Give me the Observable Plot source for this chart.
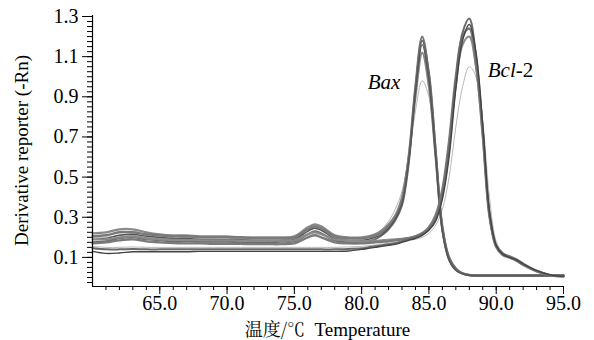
<!DOCTYPE html>
<html><head><meta charset="utf-8">
<script src="https://cdn.jsdelivr.net/npm/d3@7"></script>
<script src="https://cdn.jsdelivr.net/npm/@observablehq/plot@0.6"></script>
<style>
body{margin:0;background:#fff;}
#chart svg{display:block;}
</style>
</head><body><div id="chart"></div>
<script>
// Temperature grid (°C)
const temperature = [60,61,62,63,64,65,66,67,68,69,70,71,72,73,74,75,76,76.5,77,78,79,80,80.5,81,81.5,82,82.5,83,83.5,84,84.5,85,85.5,86,86.5,87,87.5,88,88.5,89,89.5,90,90.5,91,91.5,92,93,94,95];

// Bax melt curves
const bax1 = [0.205,0.21,0.225,0.225,0.215,0.21,0.205,0.205,0.2,0.2,0.2,0.2,0.195,0.195,0.195,0.2,
  0.24,0.255,0.245,0.205,0.195,
  0.195,0.2,0.21,0.225,0.255,0.3,0.38,0.6,0.95,1.2,1.0,0.62,0.24,0.09,0.04,0.02,0.012,
  0.01,0.01,0.01,0.01,0.01,0.01,0.01,0.01,0.01,0.01,0.01];
const bax2 = [0.19,0.195,0.21,0.215,0.205,0.2,0.195,0.195,0.19,0.19,0.19,0.19,0.185,0.185,0.185,0.19,
  0.23,0.245,0.235,0.195,0.185,
  0.185,0.19,0.2,0.215,0.245,0.29,0.37,0.58,0.92,1.16,0.98,0.6,0.23,0.085,0.035,0.018,0.01,
  0.008,0.008,0.008,0.008,0.008,0.008,0.008,0.008,0.008,0.008,0.008];
const bax3 = [0.175,0.18,0.195,0.2,0.19,0.185,0.18,0.18,0.178,0.178,0.178,0.176,0.176,0.176,0.178,0.18,
  0.215,0.23,0.22,0.185,0.175,
  0.175,0.18,0.19,0.21,0.24,0.285,0.36,0.57,0.94,1.18,1.02,0.64,0.25,0.1,0.045,0.02,0.012,
  0.01,0.01,0.01,0.01,0.01,0.01,0.01,0.01,0.01,0.01,0.01];
const bax4 = [0.22,0.225,0.24,0.24,0.225,0.215,0.21,0.21,0.205,0.205,0.205,0.2,0.2,0.2,0.2,0.205,
  0.25,0.265,0.255,0.21,0.2,
  0.2,0.205,0.215,0.235,0.265,0.31,0.4,0.6,0.9,1.12,0.95,0.6,0.24,0.095,0.04,0.02,0.012,
  0.012,0.012,0.012,0.012,0.012,0.012,0.012,0.012,0.012,0.012,0.012];
const baxLight = [0.2,0.2,0.21,0.21,0.2,0.195,0.19,0.19,0.19,0.19,0.188,0.188,0.186,0.186,0.186,0.19,
  0.215,0.225,0.215,0.19,0.185,
  0.19,0.2,0.215,0.24,0.28,0.34,0.43,0.6,0.83,0.98,0.9,0.62,0.28,0.11,0.05,0.02,0.01,
  0.01,0.01,0.01,0.01,0.01,0.01,0.01,0.01,0.01,0.01,0.01];

// Bcl-2 melt curves
const bcl1 = [0.145,0.14,0.14,0.142,0.14,0.14,0.14,0.14,0.14,0.14,0.14,0.14,0.14,0.14,0.14,0.14,
  0.14,0.14,0.14,0.14,0.142,
  0.145,0.15,0.155,0.16,0.165,0.17,0.18,0.19,0.2,0.215,0.24,0.29,0.41,0.64,0.98,1.22,1.29,
  1.1,0.74,0.31,0.155,0.115,0.1,0.085,0.065,0.032,0.012,0.006];
const bcl2 = [0.13,0.12,0.122,0.128,0.128,0.128,0.128,0.128,0.13,0.13,0.13,0.13,0.13,0.13,0.13,0.13,
  0.13,0.13,0.13,0.13,0.132,
  0.14,0.145,0.15,0.155,0.16,0.165,0.175,0.185,0.195,0.21,0.235,0.28,0.39,0.6,0.94,1.18,1.26,
  1.12,0.76,0.33,0.16,0.115,0.1,0.088,0.068,0.035,0.013,0.006];
const bcl3 = [0.17,0.175,0.185,0.19,0.18,0.175,0.172,0.17,0.17,0.168,0.168,0.168,0.166,0.166,0.166,0.17,
  0.2,0.21,0.2,0.175,0.17,
  0.17,0.172,0.175,0.178,0.18,0.185,0.19,0.195,0.205,0.22,0.25,0.31,0.44,0.68,1.0,1.2,1.24,
  1.06,0.72,0.32,0.16,0.12,0.105,0.09,0.068,0.033,0.012,0.006];
const bcl4 = [0.19,0.19,0.2,0.205,0.195,0.19,0.188,0.186,0.185,0.185,0.185,0.184,0.184,0.184,0.184,0.185,
  0.215,0.225,0.215,0.19,0.185,
  0.18,0.18,0.182,0.185,0.188,0.19,0.193,0.197,0.205,0.22,0.245,0.3,0.42,0.66,0.96,1.16,1.2,
  1.05,0.7,0.3,0.15,0.11,0.098,0.083,0.062,0.03,0.01,0.005];
const bclLight = [0.155,0.15,0.15,0.152,0.15,0.15,0.15,0.15,0.15,0.15,0.15,0.15,0.15,0.15,0.15,0.15,
  0.15,0.15,0.15,0.15,0.152,
  0.155,0.158,0.162,0.166,0.17,0.175,0.18,0.185,0.19,0.2,0.22,0.26,0.34,0.5,0.75,0.95,1.05,
  1.0,0.78,0.4,0.18,0.12,0.1,0.08,0.06,0.03,0.012,0.006];

// Axis ticks and labels
const xTicks = [65, 70, 75, 80, 85, 90, 95];
const yTicks = [0.1, 0.3, 0.5, 0.7, 0.9, 1.1, 1.3];
const xDomain = [60, 95];
const yDomain = [-0.045, 1.305];
const xTitleCJK = "温度/℃";
const xTitle = "  Temperature";
const yTitle = "Derivative reporter (-Rn)";
const geneLabels = [
  {italic: "Bax", plain: "", x: 81.7, y: 0.936},
  {italic: "Bcl", plain: "-2", x: 91.1, y: 0.996}
];

const series = [
  {values: baxLight, color: "#b8b8b8", width: 1},
  {values: bclLight, color: "#b8b8b8", width: 1},
  {values: bax4, color: "#8a8a8a", width: 2.2},
  {values: bax1, color: "#7a7a7a", width: 2.4},
  {values: bax3, color: "#6a6a6a", width: 2},
  {values: bax2, color: "#555555", width: 1.4},
  {values: bcl4, color: "#8a8a8a", width: 2.2},
  {values: bcl3, color: "#7a7a7a", width: 2.4},
  {values: bcl1, color: "#6a6a6a", width: 2},
  {values: bcl2, color: "#444444", width: 1.4}
];

const yMinor = d3.range(-0.025, 1.3001, 0.025);
const xMinor = d3.range(61, 95.001, 1);
const font = "Liberation Serif";
const cjkFont = "Noto Serif CJK SC";

const chart = Plot.plot({
  width: 594,
  height: 340,
  marginLeft: 92,
  marginRight: 31,
  marginTop: 15,
  marginBottom: 54,
  style: {fontFamily: font, fontSize: "20px", color: "#000", background: "#fff"},
  x: {domain: xDomain},
  y: {domain: yDomain},
  marks: [
    Plot.axisY(yMinor, {tickSize: 5, tickFormat: () => "", label: null, strokeWidth: 1}),
    Plot.axisY(yTicks, {tickSize: 10, tickPadding: 4, tickFormat: d3.format(".1f"), label: null, fontSize: 20, fontFamily: font}),
    Plot.axisX(xMinor, {tickSize: 4, tickFormat: () => "", label: null}),
    Plot.axisX(xTicks, {tickSize: 8, tickPadding: 1, tickFormat: d3.format(".1f"), label: null, fontSize: 20, fontFamily: font}),
    ...series.map(s => Plot.line(temperature, {
      x: d => d,
      y: (d, i) => s.values[i],
      stroke: s.color,
      strokeWidth: s.width,
      curve: "catmull-rom"
    })),
    Plot.ruleX([xDomain[0]], {stroke: "#000", strokeWidth: 1.2}),
    Plot.ruleY([yDomain[0]], {stroke: "#000", strokeWidth: 1.2})
  ]
});
chart.setAttribute("font-family", font);

document.getElementById("chart").appendChild(chart);

const svg = d3.select(chart);
const sx = chart.scale("x"), sy = chart.scale("y");
geneLabels.forEach(l => {
  const t = svg.append("text")
    .attr("x", sx.apply(l.x))
    .attr("y", sy.apply(l.y))
    .attr("text-anchor", "middle")
    .attr("font-family", font)
    .attr("font-size", 21)
    .attr("fill", "#000");
  t.append("tspan").attr("font-style", "italic").attr("font-family", font).text(l.italic);
  if (l.plain) t.append("tspan").attr("font-family", font).text(l.plain);
});
// Axis titles
svg.append("text")
  .attr("transform", `translate(28,${(sy.apply(yDomain[0]) + sy.apply(yDomain[1])) / 2}) rotate(-90)`)
  .attr("text-anchor", "middle")
  .attr("font-family", font)
  .attr("font-size", 19).attr("fill", "#000")
  .text(yTitle);
const xt = svg.append("text")
  .attr("x", (sx.apply(xDomain[0]) + sx.apply(xDomain[1])) / 2)
  .attr("y", 336)
  .attr("text-anchor", "middle")
  .attr("font-family", font)
  .attr("font-size", 19).attr("fill", "#000");
xt.append("tspan").attr("font-family", cjkFont).attr("font-size", 18).text(xTitleCJK);
xt.append("tspan").attr("font-family", font).text(xTitle);
</script>
</body></html>
